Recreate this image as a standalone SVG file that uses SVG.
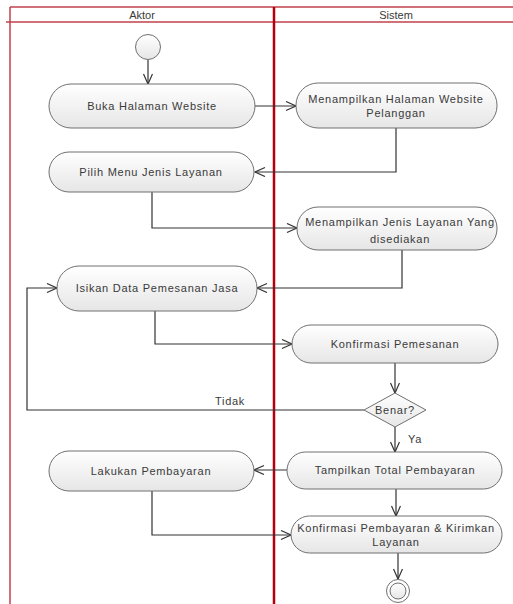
<svg xmlns="http://www.w3.org/2000/svg" width="513" height="604" viewBox="0 0 513 604">
  <style>
    .lane { fill: none; stroke: #c0404c; stroke-width: 1.5; }
    .divider { stroke: #b4000c; stroke-width: 2.5; }
    .head { font-family: "Liberation Sans", Arial, sans-serif; font-size: 11px; fill: #3a3a3a; text-anchor: middle; }
    .act { fill: url(#actFill); stroke: #707070; stroke-width: 1; }
    .lbl { font-family: "Liberation Sans", Arial, sans-serif; font-size: 11px; fill: #3a3a3a; text-anchor: middle; letter-spacing: 0.75px; }
    .edge { fill: none; stroke: #333; stroke-width: 1.2; marker-end: url(#open); }
  </style>
  <defs>
    <linearGradient id="actFill" x1="0" y1="0" x2="0" y2="1">
      <stop offset="0" stop-color="#ffffff"/>
      <stop offset="1" stop-color="#e6e6e6"/>
    </linearGradient>
    <marker id="open" markerUnits="userSpaceOnUse" markerWidth="14" markerHeight="12" refX="11" refY="5" orient="auto">
      <path d="M1,0.5 L11,5 L1,9.5" fill="none" stroke="#333" stroke-width="1.2"/>
    </marker>
  </defs>

  <rect width="513" height="604" fill="#ffffff"/>

  <!-- swimlanes -->
  <g id="lanes">
    <line class="lane" x1="10" y1="7" x2="513" y2="7"/>
    <line class="lane" x1="6" y1="22" x2="513" y2="22"/>
    <line class="lane" x1="10" y1="7" x2="10" y2="604"/>
    <line class="divider" x1="274" y1="7" x2="274" y2="604"/>
    <text class="head" x="142" y="19">Aktor</text>
    <text class="head" x="396" y="19">Sistem</text>
  </g>

  <!-- connectors -->
  <g id="connectors">
    <path class="edge" d="M148,60 L148,84"/>
    <path class="edge" d="M255,106 L296,106"/>
    <path class="edge" d="M396,128 L396,172 L255,172"/>
    <path class="edge" d="M152,192 L152,228 L297,228"/>
    <path class="edge" d="M402,250 L402,288 L257,288"/>
    <path class="edge" d="M155,311 L155,344 L292,344"/>
    <path class="edge" d="M395,363 L395,393"/>
    <path class="edge" d="M364,410 L27,410 L27,288 L57,288"/>
    <path class="edge" d="M395,427 L395,452"/>
    <path class="edge" d="M287,470 L254,470"/>
    <path class="edge" d="M152,491 L152,535 L291,535"/>
    <path class="edge" d="M396,489 L396,516"/>
    <path class="edge" d="M398,553 L398,579"/>
    <text class="lbl" x="230" y="405">Tidak</text>
    <text class="lbl" x="415" y="443">Ya</text>
  </g>

  <!-- start -->
  <g id="start">
    <circle cx="148" cy="47" r="12.5" fill="url(#actFill)" stroke="#707070" stroke-width="1"/>
  </g>

  <!-- actor lane activities -->
  <g id="buka-halaman">
    <rect class="act" x="49" y="84" width="206" height="44" rx="22"/>
    <text class="lbl" x="152" y="110">Buka Halaman Website</text>
  </g>
  <g id="pilih-menu">
    <rect class="act" x="49" y="152" width="205" height="40" rx="20"/>
    <text class="lbl" x="151" y="176">Pilih Menu Jenis Layanan</text>
  </g>
  <g id="isikan-data">
    <rect class="act" x="57" y="266" width="200" height="45" rx="22"/>
    <text class="lbl" x="157" y="292">Isikan Data Pemesanan Jasa</text>
  </g>
  <g id="lakukan-pembayaran">
    <rect class="act" x="49" y="451" width="205" height="40" rx="20"/>
    <text class="lbl" x="151" y="475">Lakukan Pembayaran</text>
  </g>

  <!-- system lane activities -->
  <g id="tampil-halaman">
    <rect class="act" x="296" y="83" width="201" height="45" rx="22"/>
    <text class="lbl" x="396" y="103">Menampilkan Halaman Website</text>
    <text class="lbl" x="396" y="117">Pelanggan</text>
  </g>
  <g id="tampil-jenis">
    <rect class="act" x="297" y="207" width="200" height="43" rx="21"/>
    <text class="lbl" x="400" y="226">Menampilkan Jenis Layanan Yang</text>
    <text class="lbl" x="400" y="243">disediakan</text>
  </g>
  <g id="konfirmasi-pemesanan">
    <rect class="act" x="292" y="325" width="206" height="38" rx="19"/>
    <text class="lbl" x="395" y="348">Konfirmasi Pemesanan</text>
  </g>
  <g id="benar">
    <polygon points="395,393 426,410 395,427 364,410" fill="url(#actFill)" stroke="#707070" stroke-width="1"/>
    <text class="lbl" x="395" y="414">Benar?</text>
  </g>
  <g id="tampil-total">
    <rect class="act" x="287" y="452" width="215" height="37" rx="18.5"/>
    <text class="lbl" x="395" y="474">Tampilkan Total Pembayaran</text>
  </g>
  <g id="konfirmasi-pembayaran">
    <rect class="act" x="291" y="516" width="211" height="37" rx="18.5"/>
    <text class="lbl" x="396" y="532">Konfirmasi Pembayaran &amp; Kirimkan</text>
    <text class="lbl" x="396" y="546">Layanan</text>
  </g>

  <!-- end -->
  <g id="end">
    <circle cx="398" cy="591" r="11.5" fill="#ffffff" stroke="#707070" stroke-width="1"/>
    <circle cx="398" cy="591" r="8" fill="url(#actFill)" stroke="#707070" stroke-width="1"/>
  </g>
</svg>
